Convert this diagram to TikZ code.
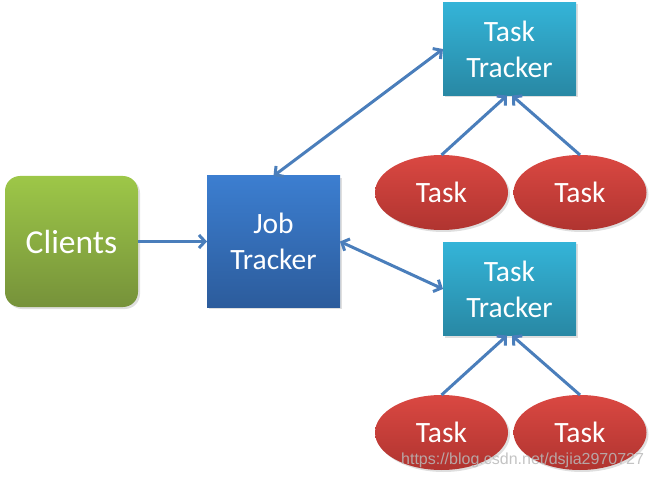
\documentclass[tikz,border=0pt]{standalone}
\usepackage{fontspec}
\setmainfont{Carlito}
\newfontfamily\markfont{Liberation Sans}
\usetikzlibrary{arrows.meta,shadows,shapes.geometric}

\definecolor{linkblue}{RGB}{74,126,187}
\definecolor{cligreenA}{RGB}{157,199,72}
\definecolor{cligreenB}{RGB}{118,146,58}
\definecolor{jobblueA}{RGB}{60,126,208}
\definecolor{jobblueB}{RGB}{44,92,156}
\definecolor{ttcyanA}{RGB}{52,180,216}
\definecolor{ttcyanB}{RGB}{40,136,164}
\definecolor{taskredA}{RGB}{218,72,66}
\definecolor{taskredB}{RGB}{176,52,48}

\begin{document}
\begin{tikzpicture}[x=1pt,y=-1pt]%

\useasboundingbox (0,0) rectangle (653,478);

\tikzstyle{every node}=[inner sep=0,outer sep=0,text=white,align=center,
  font=\fontsize{29.5}{36}\selectfont]
\tikzstyle{boxshadow}=[drop shadow={opacity=0.25,shadow xshift=2pt,shadow yshift=-2pt}]
\tikzstyle{client}=[boxshadow,rounded corners=15pt,minimum width=133pt,minimum height=131pt,
  top color=cligreenA,bottom color=cligreenB,font=\fontsize{33.5}{40}\selectfont]
\tikzstyle{job}=[boxshadow,minimum width=133pt,minimum height=131pt,
  top color=jobblueA,bottom color=jobblueB]
\tikzstyle{tracker}=[boxshadow,minimum width=133pt,minimum height=93pt,
  top color=ttcyanA,bottom color=ttcyanB]
\tikzstyle{task}=[boxshadow,ellipse,minimum width=133pt,minimum height=75pt,
  top color=taskredA,bottom color=taskredB]
\tikzstyle{link}=[draw=linkblue,line width=3pt,
  {Straight Barb[length=6pt,width=13pt]}-{Straight Barb[length=6pt,width=13pt]}]
\tikzstyle{linkto}=[draw=linkblue,line width=3pt,-{Straight Barb[length=6pt,width=13pt]}]

\node[client] (clients) at (71.5,241.5) {Clients};
\node[job] (job) at (273.5,241.5) {Job\\Tracker};

\node[tracker] (tt1) at (509.5,49) {Task\\Tracker};
\node[tracker] (tt2) at (509.5,289) {Task\\Tracker};

\node[task] (ta1) at (441.5,192.5) {Task};
\node[task] (tb1) at (580,192.5) {Task};
\node[task] (ta2) at (441.5,432.5) {Task};
\node[task] (tb2) at (580,432.5) {Task};

\draw[linkto] (clients.east) -- (job.west);
\draw[link] (job.north) -- (tt1.west);
\draw[link] (job.east) -- (tt2.west);

\draw[linkto] (ta1.north) -- ([xshift=-2.5pt]tt1.south);
\draw[linkto] (tb1.north) -- ([xshift=2.5pt]tt1.south);
\draw[linkto] (ta2.north) -- ([xshift=-2.5pt]tt2.south);
\draw[linkto] (tb2.north) -- ([xshift=2.5pt]tt2.south);

\node[text=gray!55,text opacity=0.85,font=\markfont\fontsize{16}{18}\selectfont,anchor=base east]
  (mark) at (644,464) {https://blog.csdn.net/dsjia2970727};

\end{tikzpicture}
\end{document}
